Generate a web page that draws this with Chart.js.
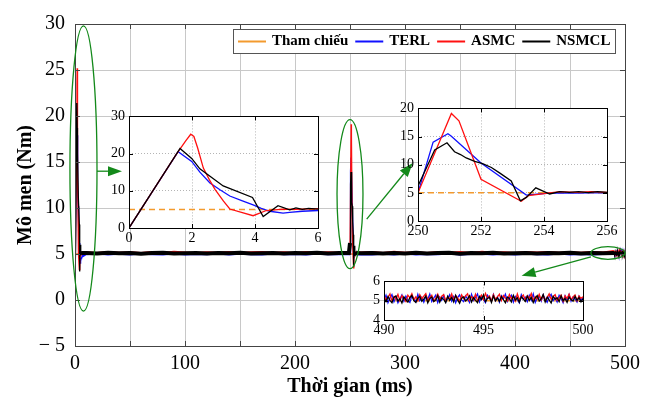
<!DOCTYPE html>
<html>
<head>
<meta charset="utf-8">
<script src="https://cdn.jsdelivr.net/npm/chart.js@4.4.0/dist/chart.umd.min.js"></script>
<style>
  body { margin: 0; background: #fff; }
  #wrap { position: relative; width: 661px; height: 402px; }
  #wrap canvas { position: absolute; }
</style>
</head>
<body>
<div id="wrap">
  <canvas id="main" width="661" height="402" style="left:0;top:0"></canvas>
  <canvas id="zoom1" width="229" height="144" style="left:99px;top:104px"></canvas>
  <canvas id="zoom2" width="233" height="145" style="left:388px;top:96px"></canvas>
  <canvas id="zoom3" width="243" height="71" style="left:354px;top:269px"></canvas>
</div>
<script>
// ---------- data ----------
const names = ['Tham chiếu', 'TERL', 'ASMC', 'NSMCL'];
const refLevel = 5;

// khởi động 0–6 ms
const terlT1 = [0, 1.56, 1.99, 2.25, 2.57, 2.9, 3.2, 3.6, 3.94, 4.2, 4.47, 4.89, 5.1, 5.5, 6];
const terlY1 = [0, 20.5, 17.9, 15.0, 12.1, 10.2, 8.6, 7.3, 6.2, 5.3, 4.5, 4.0, 4.2, 4.5, 4.7];
const asmcT1 = [0, 1.5, 1.8, 1.96, 2.06, 2.18, 2.36, 2.55, 2.73, 3.0, 3.2, 3.94, 4.36, 4.9, 5.3, 6];
const asmcY1 = [0, 19.8, 23.4, 25.2, 24.6, 21.5, 16.1, 13.0, 10.4, 7.2, 5.1, 3.3, 4.7, 5.1, 5.0, 5.2];
const nsmclT1 = [0, 1.62, 1.99, 2.25, 2.99, 3.92, 4.26, 4.73, 5.1, 5.3, 5.5, 5.7, 6];
const nsmclY1 = [0, 21.4, 18.7, 15.9, 11.3, 8.2, 3.1, 6.0, 4.9, 5.4, 5.0, 5.3, 5.1];

// thay đổi tải 250–256 ms
const terlT2 = [250, 250.48, 250.95, 251.05, 252.0, 253.44, 253.6, 254.07, 254.5, 255, 255.5, 256];
const terlY2 = [5, 14.0, 15.5, 15.1, 10.3, 4.6, 4.7, 4.9, 5.0, 4.95, 5.0, 4.98];
const asmcT2 = [250, 251.06, 251.3, 252.0, 253.28, 253.5, 254.07, 254.5, 255, 255.5, 256];
const asmcY2 = [5, 19.1, 17.8, 7.4, 3.5, 4.5, 4.9, 5.2, 5.1, 5.2, 5.1];
const nsmclT2 = [250, 250.53, 250.92, 251.16, 251.35, 251.53, 251.8, 252.05, 252.33, 252.6, 252.96, 253.25, 253.44, 253.74, 254.18, 254.5, 254.8, 255.1, 255.4, 255.7, 256];
const nsmclY2 = [6.2, 12.6, 13.9, 12.3, 11.8, 11.2, 10.6, 10.2, 9.5, 8.5, 7.1, 3.6, 4.2, 5.9, 4.8, 5.2, 5.1, 5.2, 5.05, 5.2, 5.1];

// xác lập (mẫu mỗi 10 ms)
const steadyT1 = [10, 20, 30, 40, 50, 60, 70, 80, 90, 100, 110, 120, 130, 140, 150, 160, 170, 180, 190, 200, 210, 220, 230, 240, 249];
const terlS1 = [5.0, 5.08, 4.97, 5.05, 4.96, 5.07, 5.0, 4.98, 5.09, 4.97, 5.03, 4.99, 5.07, 4.96, 5.05, 5.0, 4.97, 5.08, 4.99, 5.04, 4.96, 5.06, 5.0, 5.02, 5.0];
const asmcS1 = [5.16, 5.08, 5.2, 5.1, 5.15, 5.07, 5.18, 5.1, 5.21, 5.13, 5.07, 5.17, 5.11, 5.19, 5.09, 5.16, 5.2, 5.1, 5.15, 5.08, 5.18, 5.12, 5.16, 5.1, 5.05];
const nsmclS1 = [5.1, 5.05, 5.13, 5.07, 5.11, 5.04, 5.1, 5.14, 5.06, 5.09, 5.12, 5.05, 5.11, 5.07, 5.13, 5.06, 5.09, 5.12, 5.05, 5.1, 5.08, 5.13, 5.06, 5.1, 5.1];
const steadyT2 = [260, 270, 280, 290, 300, 310, 320, 330, 340, 350, 360, 370, 380, 390, 400, 410, 420, 430, 440, 450, 460, 470, 480];
const terlS2 = [5.0, 4.96, 5.06, 4.98, 5.08, 4.96, 5.04, 4.99, 5.07, 4.97, 5.02, 5.06, 4.98, 5.05, 4.96, 5.05, 5.0, 4.97, 5.08, 4.98, 5.03, 4.96, 5.04];
const asmcS2 = [5.13, 5.19, 5.08, 5.21, 5.11, 5.17, 5.07, 5.2, 5.12, 5.18, 5.09, 5.21, 5.12, 5.16, 5.08, 5.19, 5.14, 5.2, 5.1, 5.17, 5.11, 5.2, 5.13];
const nsmclS2 = [5.08, 5.12, 5.05, 5.11, 5.06, 5.14, 5.05, 5.1, 5.13, 5.04, 5.11, 5.07, 5.13, 5.06, 5.09, 5.12, 5.05, 5.11, 5.07, 5.13, 5.06, 5.1, 5.08];

// 490–500 ms, mẫu 0.1 ms
const noiseStart = 490, noiseStep = 0.1;
const terlN = [5.05, 5.28, 4.9, 5.15, 5.32, 4.95, 5.2, 4.89, 5.1, 5.3, 4.97, 5.24, 5.03, 4.91, 5.26, 5.12, 4.94, 5.33, 5.0, 5.18,
  4.92, 5.22, 5.08, 5.34, 4.96, 5.14, 5.29, 4.9, 5.19, 5.02, 5.27, 4.93, 5.11, 5.31, 4.98, 5.21, 4.89, 5.16, 5.3, 5.04,
  4.95, 5.25, 5.09, 4.91, 5.33, 5.01, 5.17, 5.35, 4.94, 5.23, 5.06, 4.9, 5.28, 5.13, 4.97, 5.32, 5.0, 5.2, 4.92, 5.26,
  5.1, 5.34, 4.96, 5.15, 5.29, 4.93, 5.22, 5.05, 4.89, 5.31, 5.08, 5.18, 4.95, 5.27, 5.02, 5.35, 4.91, 5.14, 5.24, 4.98,
  5.3, 5.07, 4.92, 5.21, 5.33, 5.0, 5.16, 4.94, 5.28, 5.11, 4.9, 5.25, 5.04, 5.32, 4.97, 5.19, 5.09, 4.93, 5.23, 5.01, 5.15];
const asmcN = [5.3, 5.02, 5.18, 5.35, 4.98, 5.22, 5.08, 5.33, 5.0, 5.26, 5.12, 4.96, 5.29, 5.15, 5.36, 5.04, 5.2, 4.99, 5.31, 5.1,
  5.24, 5.37, 5.01, 5.17, 5.28, 4.97, 5.13, 5.34, 5.06, 5.23, 5.32, 5.0, 5.19, 5.09, 5.35, 5.03, 5.27, 5.14, 4.98, 5.3,
  5.11, 5.25, 5.36, 5.02, 5.21, 5.07, 5.33, 4.99, 5.16, 5.29, 5.05, 5.38, 5.12, 5.24, 4.97, 5.31, 5.08, 5.2, 5.34, 5.01,
  5.27, 5.15, 5.0, 5.32, 5.1, 5.23, 4.98, 5.35, 5.06, 5.18, 5.3, 5.03, 5.26, 5.13, 5.37, 5.0, 5.21, 5.09, 5.33, 5.04,
  5.28, 4.99, 5.17, 5.36, 5.07, 5.22, 5.31, 5.02, 5.14, 5.29, 4.97, 5.25, 5.11, 5.34, 5.05, 5.19, 5.3, 5.0, 5.24, 5.12, 5.2];
const nsmclN = [5.12, 4.95, 5.21, 5.02, 4.9, 5.18, 5.25, 4.98, 5.1, 4.88, 5.2, 5.05, 4.93, 5.16, 5.27, 5.0, 4.91, 5.14, 5.22, 4.97,
  5.08, 5.24, 4.89, 5.11, 5.19, 4.96, 5.03, 5.26, 4.92, 5.15, 5.07, 4.9, 5.23, 5.01, 5.17, 4.94, 5.28, 5.04, 4.87, 5.13,
  5.2, 4.99, 5.09, 5.25, 4.93, 5.16, 5.02, 4.9, 5.22, 5.06, 5.3, 4.95, 5.12, 5.18, 4.91, 5.24, 5.0, 5.14, 4.97, 5.21,
  5.05, 4.89, 5.19, 5.11, 4.94, 5.27, 5.03, 5.15, 4.92, 5.2, 5.08, 4.96, 5.23, 5.01, 5.17, 4.9, 5.13, 5.26, 4.98, 5.1,
  5.32, 4.93, 5.18, 5.04, 4.88, 5.22, 5.07, 5.15, 4.95, 5.25, 5.0, 5.12, 4.91, 5.19, 5.06, 4.97, 5.23, 5.02, 5.16, 4.94, 5.1];

// ---------- helpers ----------
const serif = "'Liberation Serif', 'Times New Roman', serif";
const colors = { ref: '#f39a2e', terl: '#1010ff', asmc: '#ff1010', nsmcl: '#000000' };
const noiseT = nsmclN.map((_, i) => +(noiseStart + i * noiseStep).toFixed(2));
const pts = (t, y) => t.map((v, i) => ({ x: v, y: y[i] }));
const flat = (t, y) => t.map(v => ({ x: v, y: y }));

const frame = {
  id: 'frame',
  beforeDraw(chart, args, o) {
    if (!o.fill) return;
    const a = chart.chartArea, c = chart.ctx;
    c.save();
    c.fillStyle = o.fill;
    c.fillRect(a.left, a.top, a.width, a.height);
    c.restore();
  },
  afterDraw(chart, args, o) {
    const a = chart.chartArea, c = chart.ctx, sx = chart.scales.x, sy = chart.scales.y;
    c.save();
    c.strokeStyle = o.color;
    c.lineWidth = 1;
    c.beginPath();
    sx.ticks.forEach(t => {
      const p = Math.round(sx.getPixelForValue(t.value)) + 0.5;
      c.moveTo(p, a.bottom); c.lineTo(p, a.bottom - o.len);
      c.moveTo(p, a.top); c.lineTo(p, a.top + o.len);
    });
    sy.ticks.forEach(t => {
      const p = Math.round(sy.getPixelForValue(t.value)) + 0.5;
      c.moveTo(a.left, p); c.lineTo(a.left + o.len, p);
      c.moveTo(a.right, p); c.lineTo(a.right - o.len, p);
    });
    c.stroke();
    c.strokeRect(Math.round(a.left) + 0.5, Math.round(a.top) + 0.5, Math.round(a.width), Math.round(a.height));
    c.restore();
  }
};

// ellipses and arrows, placed in data units of the main chart
const callouts = {
  id: 'callouts',
  afterDraw(chart, args, o) {
    const c = chart.ctx, sx = chart.scales.x, sy = chart.scales.y;
    const px = v => sx.getPixelForValue(v), py = v => sy.getPixelForValue(v);
    c.save();
    c.strokeStyle = o.color;
    c.fillStyle = o.color;
    c.lineWidth = o.width;
    o.ellipses.forEach(e => {
      const cx = px(e.x), cy = py(e.y);
      const rx = Math.abs(px(e.x + e.rx) - cx), ry = Math.abs(py(e.y + e.ry) - cy);
      c.beginPath();
      c.ellipse(cx, cy, rx, ry, 0, 0, Math.PI * 2);
      c.stroke();
    });
    o.arrows.forEach(ar => {
      const x0 = px(ar.from[0]), y0 = py(ar.from[1]), x1 = px(ar.to[0]), y1 = py(ar.to[1]);
      const ang = Math.atan2(y1 - y0, x1 - x0), hl = o.head, hw = o.head * 0.36;
      const bx = x1 - hl * Math.cos(ang), by = y1 - hl * Math.sin(ang);
      c.beginPath(); c.moveTo(x0, y0); c.lineTo(bx, by); c.stroke();
      c.beginPath();
      c.moveTo(x1, y1);
      c.lineTo(bx + hw * Math.sin(ang), by - hw * Math.cos(ang));
      c.lineTo(bx - hw * Math.sin(ang), by + hw * Math.cos(ang));
      c.closePath();
      c.fill();
    });
    c.restore();
  }
};

const boxLegend = {
  id: 'boxLegend',
  afterDraw(chart, args, o) {
    const c = chart.ctx, a = chart.chartArea;
    c.save();
    c.font = o.font;
    const items = chart.data.datasets.map(d => ({ text: d.label, color: d.borderColor, w: c.measureText(d.label).width }));
    const inner = items.reduce((s, it) => s + o.sample + o.gap + it.w, 0) + o.spacing * (items.length - 1);
    const w = Math.round(inner + 2 * o.pad), h = o.height;
    const left = Math.round(a.right - o.right - w), top = Math.round(a.top + o.top);
    c.fillStyle = '#fff';
    c.fillRect(left, top, w, h);
    c.strokeStyle = o.border;
    c.lineWidth = 1;
    c.strokeRect(left + 0.5, top + 0.5, w, h);
    let x = left + o.pad;
    const ym = top + h / 2 + 0.5;
    items.forEach(it => {
      c.strokeStyle = it.color;
      c.lineWidth = 2;
      c.beginPath(); c.moveTo(x, ym); c.lineTo(x + o.sample, ym); c.stroke();
      x += o.sample + o.gap;
      c.fillStyle = '#000';
      c.textBaseline = 'middle';
      c.fillText(it.text, x, ym);
      x += it.w + o.spacing;
    });
    c.restore();
  }
};

// ---------- main chart ----------
const thick = w => ctx => {
  const a = ctx.p0.parsed.x, b = ctx.p1.parsed.x;
  return (a >= 6 && b <= 250) || (a >= 256 && b <= 490) ? w : undefined;
};
const mainRun = (t1, y1, s1, t2, y2, s2, n) =>
  [...pts(t1, y1), ...pts(steadyT1, s1), ...pts(t2, y2), ...pts(steadyT2, s2), ...pts(noiseT, n)];

new Chart(document.getElementById('main'), {
  type: 'line',
  data: {
    datasets: [
      { label: names[0], data: flat([0, 500], refLevel), borderColor: colors.ref, borderWidth: 1.5, order: 3 },
      { label: names[1], data: mainRun(terlT1, terlY1, terlS1, terlT2, terlY2, terlS2, terlN),
        borderColor: colors.terl, borderWidth: 1.3, order: 2, segment: { borderWidth: thick(2.5) } },
      { label: names[2], data: mainRun(asmcT1, asmcY1, asmcS1, asmcT2, asmcY2, asmcS2, asmcN),
        borderColor: colors.asmc, borderWidth: 1.3, order: 1, segment: { borderWidth: thick(2.5) } },
      { label: names[3], data: mainRun(nsmclT1, nsmclY1, nsmclS1, nsmclT2, nsmclY2, nsmclS2, nsmclN),
        borderColor: colors.nsmcl, borderWidth: 1.3, order: 0, segment: { borderWidth: thick(4) } }
    ]
  },
  options: {
    responsive: false,
    animation: false,
    layout: { padding: { top: 24, right: 36, bottom: 0, left: 0 } },
    elements: { point: { radius: 0 }, line: { tension: 0 } },
    plugins: {
      legend: { display: false },
      tooltip: { enabled: false },
      frame: { color: '#444', len: 5 },
      callouts: {
        color: '#13891a', width: 1.3, head: 14,
        ellipses: [
          { x: 7.7, y: 14.3, rx: 12.3, ry: 15.5 },
          { x: 250, y: 11.5, rx: 11.8, ry: 8.1 },
          { x: 484.5, y: 5.11, rx: 15.5, ry: 0.69 }
        ],
        arrows: [
          { from: [20, 14.0], to: [42.7, 14.0] },
          { from: [265.2, 8.8], to: [307, 14.9] },
          { from: [469, 4.7], to: [406, 2.64] }
        ]
      },
      boxLegend: { font: 'bold 15px ' + serif, sample: 28, gap: 6, spacing: 7, pad: 5, height: 24, top: 5, right: 10, border: '#555' }
    },
    scales: {
      x: {
        type: 'linear', min: 0, max: 500,
        afterFit: s => { s.height = 56; },
        grid: { color: '#c8c8c8', drawTicks: false },
        border: { display: false },
        ticks: {
          stepSize: 50, autoSkip: false, maxRotation: 0, padding: 6, color: '#000',
          font: { family: serif, size: 20 },
          callback: v => (v % 100 === 0 ? v : '')
        },
        title: { display: true, text: 'Thời gian (ms)', color: '#000', font: { family: serif, size: 20, weight: 'bold' }, padding: { top: 0, bottom: 3 } }
      },
      y: {
        min: -5, max: 30,
        afterFit: s => { s.width = 75; },
        grid: { color: '#c8c8c8', drawTicks: false },
        border: { display: false },
        ticks: {
          stepSize: 5, padding: 10, color: '#000',
          font: { family: serif, size: 20 },
          callback: v => (v < 0 ? '− ' + Math.abs(v) : v)
        },
        title: { display: true, text: 'Mô men (Nm)', color: '#000', font: { family: serif, size: 20, weight: 'bold' }, padding: { top: 14, bottom: 0 } }
      }
    }
  },
  plugins: [frame, callouts, boxLegend]
});

// ---------- insets ----------
function inset(id, sets, xs, ys, padRight) {
  const tickFont = { family: serif, size: 14 };
  return new Chart(document.getElementById(id), {
    type: 'line',
    data: { datasets: sets },
    options: {
      responsive: false,
      animation: false,
      layout: { padding: { top: 10, right: padRight, bottom: 0, left: 0 } },
      elements: { point: { radius: 0 }, line: { tension: 0, borderWidth: 1.3 } },
      plugins: { legend: { display: false }, tooltip: { enabled: false }, frame: { color: '#000', len: 4, fill: '#fff' } },
      scales: {
        x: {
          type: 'linear', min: xs[0], max: xs[1],
          afterFit: s => { s.height = 20; },
          grid: { color: '#b4b4b4', drawTicks: false },
          border: { display: false, dash: [1, 2] },
          ticks: { stepSize: xs[2], autoSkip: false, maxRotation: 0, padding: 2, color: '#000', font: tickFont }
        },
        y: {
          min: ys[0], max: ys[1],
          afterFit: s => { s.width = 30; },
          grid: { color: '#b4b4b4', drawTicks: false },
          border: { display: false, dash: [1, 2] },
          ticks: { stepSize: ys[2], autoSkip: false, padding: 4, color: '#000', font: tickFont }
        }
      }
    },
    plugins: [frame]
  });
}

const refSet = (t0, t1) => ({ data: flat([t0, t1], refLevel), borderColor: colors.ref, borderWidth: 1.5, borderDash: [6, 4], order: 3 });
const sets = (a, b, c) => [
  { data: a, borderColor: colors.terl, order: 2 },
  { data: b, borderColor: colors.asmc, order: 1 },
  { data: c, borderColor: colors.nsmcl, order: 0 }
];

inset('zoom1', [refSet(0, 6), ...sets(pts(terlT1, terlY1), pts(asmcT1, asmcY1), pts(nsmclT1, nsmclY1))], [0, 6, 2], [0, 30, 10], 10);
inset('zoom2', [refSet(250, 256), ...sets(pts(terlT2, terlY2), pts(asmcT2, asmcY2), pts(nsmclT2, nsmclY2))], [250, 256, 2], [0, 20, 5], 14);
inset('zoom3', [refSet(490, 500), ...sets(pts(noiseT, terlN), pts(noiseT, asmcN), pts(noiseT, nsmclN))], [490, 500, 5], [4, 6, 1], 14);
</script>
</body>
</html>
